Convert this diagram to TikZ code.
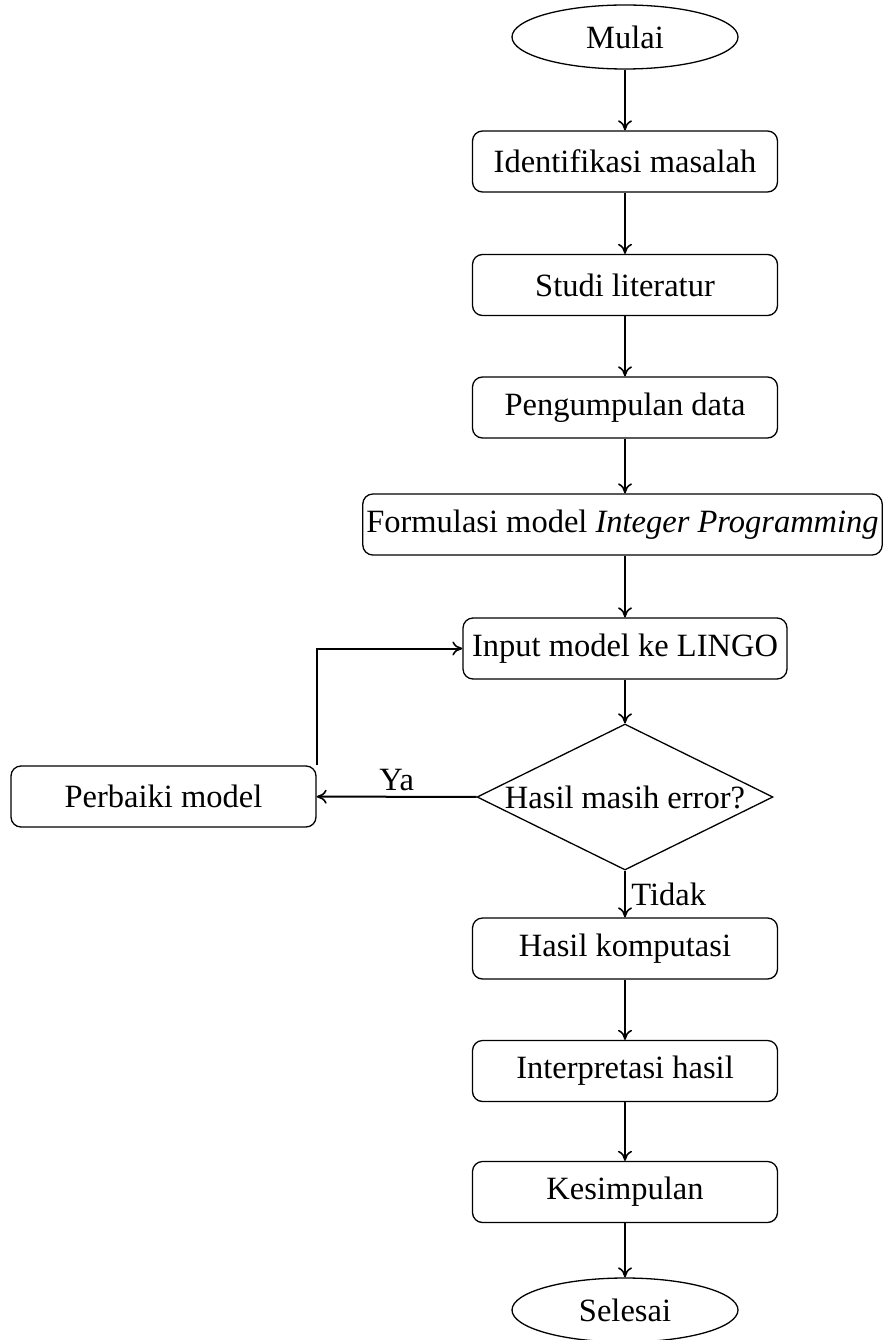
\documentclass[tikz,border=0pt]{standalone}
\usepackage{fontspec}
\setmainfont{Liberation Serif}
\usetikzlibrary{shapes.geometric,arrows.meta}
\begin{document}
\begin{tikzpicture}[x=1pt,y=-1pt,
  font=\fontsize{32.5}{38}\selectfont,
  terminal/.style={ellipse,draw,line width=1.3pt,minimum width=226pt,minimum height=64pt,inner sep=0pt},
  process/.style={rectangle,rounded corners=10pt,draw,line width=1.3pt,minimum width=305pt,minimum height=61pt,inner xsep=9pt,inner ysep=6pt},
  decision/.style={diamond,draw,line width=1.3pt,minimum width=296pt,minimum height=146pt,inner sep=0pt,aspect=2},
  flow/.style={-{To[length=10pt,width=14pt,line width=1.6pt]},line width=2pt}]
\useasboundingbox (0,0) rectangle (884,1340);
\node[terminal] (start) at (625,37) {Mulai};
\node[process] (ident) at (625,161.5) {Identifikasi masalah};
\node[process] (studi) at (625,285) {Studi literatur};
\node[process] (data) at (625,407.5) {Pengumpulan data};
\node[process,inner xsep=3.5pt] (form) at (622.5,524.5) {Formulasi model \textit{Integer Programming}};
\node[process] (input) at (625,648.5) {Input model ke LINGO};
\node[decision] (cek) at (625,797) {Hasil masih error?};
\node[process] (fix) at (163.5,796.5) {Perbaiki model};
\node[process] (hasil) at (625,948.5) {Hasil komputasi};
\node[process] (interp) at (625,1071) {Interpretasi hasil};
\node[process] (simpul) at (625,1192) {Kesimpulan};
\node[terminal] (end) at (625,1310) {Selesai};
\draw[flow] (start) -- (ident);
\draw[flow] (ident) -- (studi);
\draw[flow] (studi) -- (data);
\draw[flow] (data) -- (data |- form.north);
\draw[flow] (data |- form.south) -- (input);
\draw[flow] (input) -- (cek);
\draw[flow] (cek) -- node[above=2pt,pos=0.5] (ya) {Ya} (fix);
\draw[flow] (fix.north east) |- (input.west);
\draw[flow] (cek) -- node[right=2pt] (tidak) {Tidak} (hasil);
\draw[flow] (hasil) -- (interp);
\draw[flow] (interp) -- (simpul);
\draw[flow] (simpul) -- (end);
\end{tikzpicture}
\end{document}
